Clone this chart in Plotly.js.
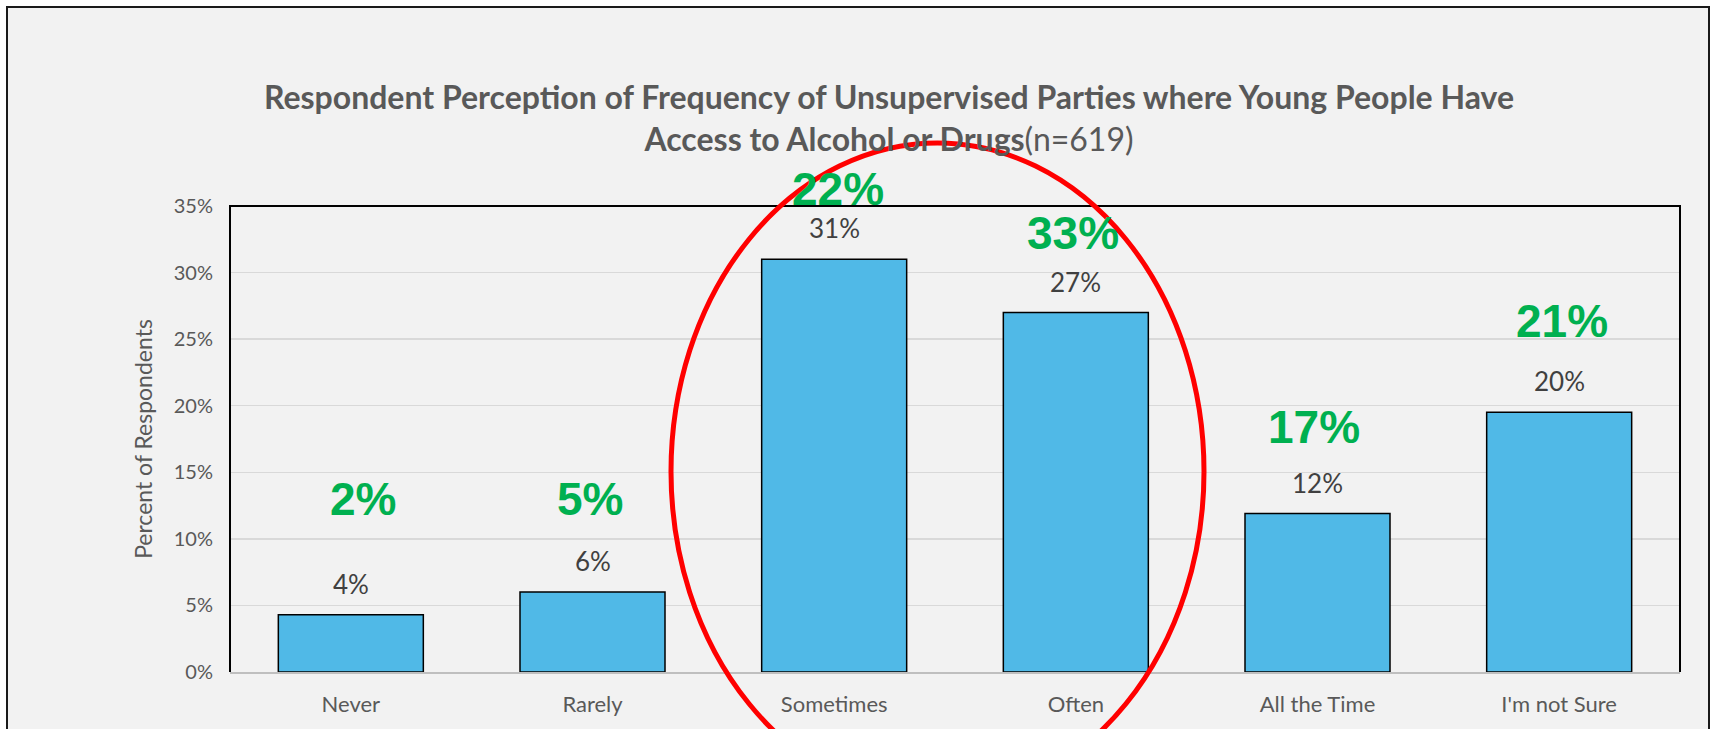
<!DOCTYPE html>
<html>
<head>
<meta charset="utf-8">
<script src="https://cdn.plot.ly/plotly-3.0.1.min.js"></script>
<style>
html,body{margin:0;padding:0;background:#fff;}
#chart{width:1719px;height:729px;}
</style>
</head>
<body>
<div id="chart"></div>
<script>
// Categories and values (percent of respondents)
const categories = ["Never", "Rarely", "Sometimes", "Often", "All the Time", "I'm not Sure"];
const values = [4.3, 6.0, 31.0, 27.0, 11.9, 19.5];
const valueLabels = ["4%", "6%", "31%", "27%", "12%", "20%"];
// Green comparison percentages overlaid on the chart
const greenLabels = ["2%", "5%", "22%", "33%", "17%", "21%"];
// Vertical placement (in axis units) of the green labels
const greenY = [13.0, 13.0, 36.3, 33.0, 18.4, 26.4];
const greenShift = [12, -3, 4, -3, -4, 3];
const yTicks = [0, 5, 10, 15, 20, 25, 30, 35];
const yTickText = yTicks.map(v => v + "%");
const yMax = 35;

const W = 1719, H = 729;
const L = 230, R = 1680, T = 206, B = 672;
const px = x => (x - L) / (R - L);
const py = y => (B - y) / (B - T);

const annotations = [];
categories.forEach((c, i) => {
  annotations.push({
    x: c, y: values[i], xref: "x", yref: "y",
    text: valueLabels[i], showarrow: false,
    yanchor: "bottom", yshift: 13,
    font: {family: "Lato, sans-serif", size: 26, color: "#404040"}
  });
  annotations.push({
    x: c, y: greenY[i] / yMax, xref: "x", yref: "paper",
    text: "<b>" + greenLabels[i] + "</b>", showarrow: false,
    yanchor: "middle", xshift: greenShift[i],
    font: {family: "Liberation Sans, Arial, sans-serif", size: 46, color: "#00B050"}
  });
});

const data = [{
  type: "bar",
  x: categories,
  y: values,
  marker: {color: "#50B9E7", line: {color: "#000000", width: 1.5}},
  hoverinfo: "x+y"
}];

const layout = {
  width: W, height: H,
  margin: {l: L, r: W - R, t: T, b: H - B, pad: 0},
  paper_bgcolor: "#FFFFFF",
  plot_bgcolor: "rgba(0,0,0,0)",
  bargap: 0.4,
  showlegend: false,
  font: {family: "Lato, sans-serif", color: "#595959"},
  title: {
    text: "<b>Respondent Perception of Frequency of Unsupervised Parties where Young People Have<br>Access to Alcohol or Drugs</b>(n=619)",
    x: px(889), xref: "paper", xanchor: "center",
    y: 1 - 109 / H, yref: "container", yanchor: "top",
    font: {family: "Lato, sans-serif", size: 32, color: "#595959"}
  },
  xaxis: {
    type: "category",
    showgrid: false,
    showline: true, linecolor: "#BFBFBF", linewidth: 2,
    ticks: "", ticklabelstandoff: 12,
    tickfont: {family: "Lato, sans-serif", size: 22, color: "#595959"},
    fixedrange: true
  },
  yaxis: {
    range: [0, yMax],
    tickvals: yTicks, ticktext: yTickText,
    showgrid: true, gridcolor: "#D9D9D9", gridwidth: 1.5,
    zeroline: false, showline: false,
    ticks: "", ticklabelstandoff: 16,
    tickfont: {family: "Lato, sans-serif", size: 20, color: "#595959"},
    title: {text: "Percent of Respondents", standoff: 14,
            font: {family: "Lato, sans-serif", size: 23, color: "#595959"}},
    fixedrange: true
  },
  annotations: annotations,
  shapes: [
    // outer chart frame
    {type: "rect", xref: "paper", yref: "paper", layer: "below",
     x0: px(7), x1: px(1709), y0: py(760), y1: py(7),
     fillcolor: "#F2F2F2", line: {color: "#1A1A1A", width: 2}},
    // plot area border (top, left, right)
    {type: "path", xref: "paper", yref: "paper", layer: "above",
     path: "M 0 0 L 0 1 L 1 1 L 1 0", line: {color: "#000000", width: 2}},
    // red highlight ellipse
    {type: "circle", xref: "paper", yref: "paper", layer: "above",
     x0: px(671), x1: px(1204), y0: py(800), y1: py(143),
     line: {color: "#FF0000", width: 5}, fillcolor: "rgba(0,0,0,0)"}
  ]
};

Plotly.newPlot("chart", data, layout, {displayModeBar: false, staticPlot: true});
</script>
</body>
</html>
